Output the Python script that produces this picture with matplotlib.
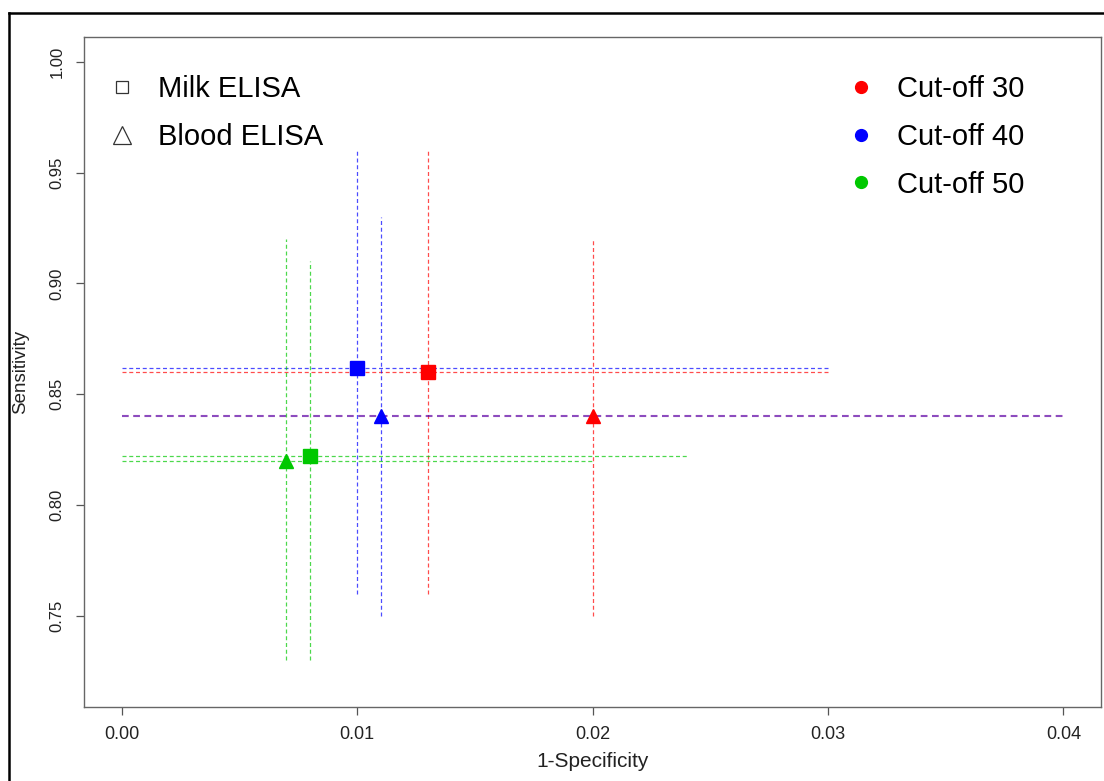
import matplotlib
matplotlib.use("Agg")
import matplotlib.pyplot as plt
from matplotlib.lines import Line2D

plt.rcParams['font.family'] = ['Liberation Sans', 'DejaVu Sans']

# ---- data ----
cutoffs = ["Cut-off 30", "Cut-off 40", "Cut-off 50"]
colors = ["#FF0000", "#0000FF", "#00C800"]

milk_fpr = [0.013, 0.010, 0.008]
milk_se = [0.860, 0.862, 0.822]
milk_fpr_lo = [0.0, 0.0, 0.0]
milk_fpr_hi = [0.030, 0.030, 0.024]
milk_se_lo = [0.76, 0.76, 0.73]
milk_se_hi = [0.96, 0.96, 0.91]

blood_fpr = [0.020, 0.011, 0.007]
blood_se = [0.840, 0.840, 0.820]
blood_fpr_lo = [0.0, 0.0, 0.0]
blood_fpr_hi = [0.040, 0.040, 0.020]
blood_se_lo = [0.75, 0.75, 0.73]
blood_se_hi = [0.92, 0.93, 0.92]

xticks = [0.00, 0.01, 0.02, 0.03, 0.04]
yticks = [0.75, 0.80, 0.85, 0.90, 0.95, 1.00]

# ---- figure ----
W, H = 1104, 781
fig = plt.figure(figsize=(W / 100, H / 100), dpi=100)

# outer black frame (cut off at right/bottom)
fig.add_artist(Line2D([9 / W, 9 / W], [0, 1 - 13 / H], color="black", lw=1.8,
                      transform=fig.transFigure))
fig.add_artist(Line2D([9 / W, 1], [1 - 13 / H, 1 - 13 / H], color="black", lw=1.8,
                      transform=fig.transFigure))

left, right, top, bottom = 84, 1101, 37, 707
ax = fig.add_axes([left / W, 1 - bottom / H, (right - left) / W, (bottom - top) / H])

dash = (0, (3.2, 2.2))
for i in range(3):
    c = colors[i]
    # milk CIs
    ax.hlines(milk_se[i], milk_fpr_lo[i], milk_fpr_hi[i], colors=c, linestyles=dash,
              lw=0.9, alpha=0.7)
    ax.vlines(milk_fpr[i], milk_se_lo[i], milk_se_hi[i], colors=c, linestyles=dash,
              lw=0.9, alpha=0.7)
    # blood CIs
    ax.hlines(blood_se[i], blood_fpr_lo[i], blood_fpr_hi[i], colors=c, linestyles=dash,
              lw=1.5 if i < 2 else 0.9, alpha=0.45 if i < 2 else 0.7)
    ax.vlines(blood_fpr[i], blood_se_lo[i], blood_se_hi[i], colors=c, linestyles=dash,
              lw=0.9, alpha=0.7)

for i in range(3):
    c = colors[i]
    ax.plot(milk_fpr[i], milk_se[i], marker="s", ms=10, color=c, ls="none", zorder=5)
    ax.plot(blood_fpr[i], blood_se[i], marker="^", ms=10, color=c, ls="none", zorder=5)

ax.set_xlim(-0.0016, 0.0416)
ax.set_ylim(0.7088, 1.0112)
ax.set_xticks(xticks)
ax.set_xticklabels([f"{v:.2f}" for v in xticks])
ax.set_yticks(yticks)
ax.set_yticklabels([f"{v:.2f}" for v in yticks], rotation=90, va="center")
ax.tick_params(axis="both", direction="out", length=6, width=0.9, color="#555555",
               labelcolor="#222222")
ax.tick_params(axis="x", pad=8, labelsize=13)
ax.tick_params(axis="y", pad=8, labelsize=12)
for s in ax.spines.values():
    s.set_color("#666666")
    s.set_linewidth(1.0)

ax.set_xlabel("1-Specificity", fontsize=15, color="#222222", labelpad=6)
ax.set_ylabel("Sensitivity", fontsize=13.5, color="#222222")
ax.yaxis.set_label_coords((29 - left) / (right - left), 0.5)

# legends
fs = 21
leg_top = 1 - (75 - top) / (bottom - top)
type_handles = [
    Line2D([], [], marker="s", ls="none", mfc="none", mec="#333333", ms=8.5, mew=0.9),
    Line2D([], [], marker="^", ls="none", mfc="none", mec="#333333", ms=12.5, mew=0.9),
]
leg1 = ax.legend(type_handles, ["Milk ELISA", "Blood ELISA"], loc="upper left",
                 bbox_to_anchor=((104 - left) / (right - left), leg_top),
                 frameon=False, fontsize=fs, borderpad=0, borderaxespad=0,
                 handletextpad=0.65, labelspacing=0.68, handlelength=1.2)
ax.add_artist(leg1)
cut_handles = [Line2D([], [], marker="o", ls="none", color=c, ms=8.5) for c in colors]
ax.legend(cut_handles, cutoffs, loc="upper left",
          bbox_to_anchor=((843 - left) / (right - left), leg_top),
          frameon=False, fontsize=fs, borderpad=0, borderaxespad=0,
          handletextpad=0.65, labelspacing=0.68, handlelength=1.2)

fig.savefig("out.png", dpi=100)
